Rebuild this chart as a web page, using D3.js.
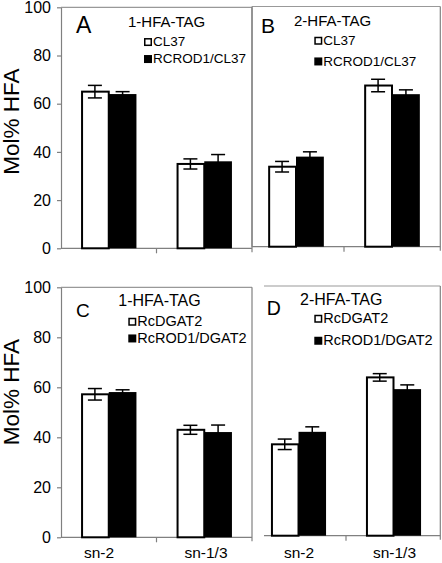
<!DOCTYPE html>
<html>
<head>
<meta charset="utf-8">
<script src="https://cdn.jsdelivr.net/npm/d3@7"></script>
<style>
  html, body { margin: 0; padding: 0; background: #fff; }
  svg { display: block; }
  text { font-family: "Liberation Sans", Arial, sans-serif; fill: #000; }
</style>
</head>
<body>
<svg id="chart" width="442" height="563"></svg>
<script>
// ---------------- data ----------------
const categories = ["sn-2", "sn-1/3"];
const yTicks = [0, 20, 40, 60, 80, 100];
const panelLetters = ["A", "B", "C", "D"];
const panelTitles = ["1-HFA-TAG", "2-HFA-TAG", "1-HFA-TAG", "2-HFA-TAG"];
const seriesTop = ["CL37", "RCROD1/CL37"];
const seriesBottom = ["RcDGAT2", "RcROD1/DGAT2"];
const yLabel = "Mol% HFA";

const A_control = [65.0, 35.0];
const A_control_err = [2.6, 2.1];
const A_rod1 = [64.0, 36.1];
const A_rod1_err = [1.0, 2.8];

const B_control = [33.3, 67.1];
const B_control_err = [2.2, 2.6];
const B_rod1 = [37.5, 63.5];
const B_rod1_err = [2.0, 1.8];

const C_control = [57.2, 43.0];
const C_control_err = [2.3, 1.8];
const C_rod1 = [58.1, 42.1];
const C_rod1_err = [0.9, 2.8];

const D_control = [36.6, 63.4];
const D_control_err = [2.1, 1.5];
const D_rod1 = [41.6, 58.7];
const D_rod1_err = [2.0, 1.7];

// ---------------- layout ----------------
const panels = [
  { letter: panelLetters[0], title: panelTitles[0], series: seriesTop,
    ctrl: A_control, ctrlErr: A_control_err, rod: A_rod1, rodErr: A_rod1_err,
    frame: [61, 252], xr: [61, 252], yTop: 7.3, yZero: 248.3, yAxis: true, leftLine: true,
    letterPos: [76, 33.3, 23], titlePos: [128, 27.3, 15], legPos: [144, 46.3, 63.3, 13.5],
    ylab: 121.5, xLabels: null },
  { letter: panelLetters[1], title: panelTitles[1], series: seriesTop,
    ctrl: B_control, ctrlErr: B_control_err, rod: B_rod1, rodErr: B_rod1_err,
    frame: [252, 440.3], xr: [248, 440], yTop: 6.5, yZero: 246.7, yAxis: false, leftLine: true,
    letterPos: [261, 33.3, 21], titlePos: [294, 26, 15], legPos: [314.3, 45, 65.7, 13.5],
    xLabels: null },
  { letter: panelLetters[2], title: panelTitles[2], series: seriesBottom,
    ctrl: C_control, ctrlErr: C_control_err, rod: C_rod1, rodErr: C_rod1_err,
    frame: [61, 252], xr: [61, 252], yTop: 287.3, yZero: 537.3, yAxis: true, leftLine: true,
    letterPos: [76, 316.7, 19], titlePos: [118.3, 305.7, 16], legPos: [128.3, 326, 342.7, 14.5],
    ylab: 392, xLabels: [99, 206] },
  { letter: panelLetters[3], title: panelTitles[3], series: seriesBottom,
    ctrl: D_control, ctrlErr: D_control_err, rod: D_rod1, rodErr: D_rod1_err,
    frame: [264, 440.3], xr: [251, 441], yTop: 286, yZero: 535.7, yAxis: false, leftLine: false,
    letterPos: [266.7, 315, 19.5], titlePos: [300, 305, 16], legPos: [314.3, 323, 345, 14.5],
    xLabels: [299, 394.5] }
];

const svg = d3.select("#chart");
const axisColor = "#808080";
const frameColor = "#999";

panels.forEach(p => {
  const g = svg.append("g");
  const y = d3.scaleLinear().domain([0, 100]).range([p.yZero, p.yTop]);
  const x = d3.scaleBand().domain(categories).range(p.xr).paddingInner(0.42).paddingOuter(0.21);
  const xs = d3.scaleBand().domain([0, 1]).range([0, x.bandwidth()]).padding(0);

  // frame: top and right
  g.append("line").attr("x1", p.frame[0]).attr("x2", p.frame[1])
    .attr("y1", p.yTop).attr("y2", p.yTop).attr("stroke", frameColor).attr("stroke-width", 1.2);
  g.append("line").attr("x1", p.frame[1]).attr("x2", p.frame[1])
    .attr("y1", p.yTop).attr("y2", p.yZero + 4).attr("stroke", axisColor).attr("stroke-width", 1.2);
  if (p.leftLine && !p.yAxis) {
    g.append("line").attr("x1", p.frame[0]).attr("x2", p.frame[0])
      .attr("y1", p.yTop).attr("y2", p.yZero).attr("stroke", axisColor).attr("stroke-width", 1.2);
  }

  // y axis
  if (p.yAxis) {
    const ya = d3.axisLeft(y).tickValues(yTicks).tickSize(4).tickSizeOuter(0).tickPadding(6);
    const ag = g.append("g").attr("transform", `translate(${p.xr[0]},0)`).call(ya);
    ag.select(".domain").attr("stroke", axisColor).attr("stroke-width", 1.2);
    ag.selectAll(".tick line").attr("stroke", axisColor).attr("stroke-width", 1.2);
    ag.selectAll(".tick text").style("font-size", "16px").attr("fill", "#000")
      .style("font-family", '"Liberation Sans", Arial, sans-serif');
    svg.append("text")
      .attr("transform", `translate(19,${p.ylab}) rotate(-90)`)
      .attr("text-anchor", "middle").style("font-size", "22.5px").text(yLabel);
  }

  // x axis baseline with boundary ticks
  g.append("line").attr("x1", p.frame[0]).attr("x2", p.frame[1])
    .attr("y1", p.yZero).attr("y2", p.yZero).attr("stroke", axisColor).attr("stroke-width", 1.2);
  const step = x.step();
  const bounds = [x(categories[1]) - x.paddingInner() * step / 2];
  g.selectAll(".bt").data(bounds).enter().append("line")
    .attr("x1", d => d).attr("x2", d => d)
    .attr("y1", p.yZero).attr("y2", p.yZero + 5)
    .attr("stroke", axisColor).attr("stroke-width", 1.2);

  // bars
  const rows = categories.map((c, i) => ({
    cat: c,
    vals: [
      { s: 0, v: p.ctrl[i], e: p.ctrlErr[i] },
      { s: 1, v: p.rod[i], e: p.rodErr[i] }
    ]
  }));
  const cg = g.selectAll(".cat").data(rows).enter().append("g")
    .attr("transform", d => `translate(${x(d.cat)},0)`);
  cg.selectAll("rect").data(d => d.vals).enter().append("rect")
    .attr("x", d => xs(d.s) + (d.s === 0 ? 1 : 0))
    .attr("y", d => y(d.v))
    .attr("width", d => xs.bandwidth() - (d.s === 0 ? 1 : 0))
    .attr("height", d => y(0) - y(d.v))
    .attr("fill", d => d.s === 0 ? "#fff" : "#000")
    .attr("stroke", "#000")
    .attr("stroke-width", d => d.s === 0 ? 2 : 0);

  // error bars
  const capW = 7;
  const eg = cg.selectAll(".err").data(d => d.vals).enter().append("g")
    .attr("stroke", "#000").attr("stroke-width", 1.5);
  eg.append("line")
    .attr("x1", d => xs(d.s) + xs.bandwidth() / 2).attr("x2", d => xs(d.s) + xs.bandwidth() / 2)
    .attr("y1", d => y(d.v + d.e)).attr("y2", d => y(d.v - d.e));
  eg.append("line")
    .attr("x1", d => xs(d.s) + xs.bandwidth() / 2 - capW).attr("x2", d => xs(d.s) + xs.bandwidth() / 2 + capW)
    .attr("y1", d => y(d.v + d.e)).attr("y2", d => y(d.v + d.e));
  eg.append("line")
    .attr("x1", d => xs(d.s) + xs.bandwidth() / 2 - capW).attr("x2", d => xs(d.s) + xs.bandwidth() / 2 + capW)
    .attr("y1", d => y(d.v - d.e)).attr("y2", d => y(d.v - d.e));

  // x labels
  if (p.xLabels) {
    categories.forEach((c, i) => {
      svg.append("text").attr("x", p.xLabels[i]).attr("y", 558)
        .attr("text-anchor", "middle").style("font-size", "15.5px").text(c);
    });
  }

  // panel letter and title
  svg.append("text").attr("x", p.letterPos[0]).attr("y", p.letterPos[1])
    .style("font-size", p.letterPos[2] + "px").text(p.letter);
  svg.append("text").attr("x", p.titlePos[0]).attr("y", p.titlePos[1])
    .style("font-size", p.titlePos[2] + "px").text(p.title);

  // legend
  const lp = p.legPos;
  [lp[1], lp[2]].forEach((by, i) => {
    svg.append("rect").attr("x", lp[0] + 0.75).attr("y", by - 7.5).attr("width", 6.5).attr("height", 6.5)
      .attr("fill", i === 0 ? "#fff" : "#000").attr("stroke", "#000").attr("stroke-width", 1.5);
    svg.append("text").attr("x", lp[0] + 9).attr("y", by)
      .style("font-size", lp[3] + "px").text(p.series[i]);
  });
});
</script>
</body>
</html>
